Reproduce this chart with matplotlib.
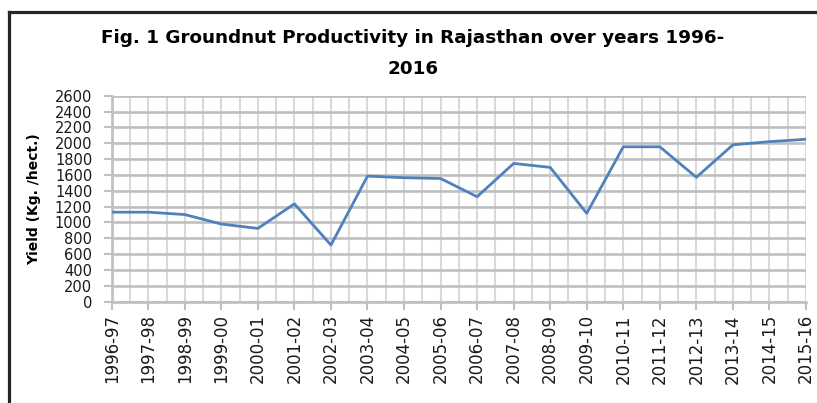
import matplotlib
matplotlib.use("Agg")
import matplotlib.pyplot as plt
from matplotlib.lines import Line2D
import numpy as np

years = ["1996-97", "1997-98", "1998-99", "1999-00", "2000-01", "2001-02",
         "2002-03", "2003-04", "2004-05", "2005-06", "2006-07", "2007-08",
         "2008-09", "2009-10", "2010-11", "2011-12", "2012-13", "2013-14",
         "2014-15", "2015-16"]
yield_kg_ha = [1130, 1130, 1100, 980, 925, 1235, 715, 1585, 1565, 1555,
               1325, 1745, 1695, 1115, 1955, 1955, 1570, 1980, 2020, 2050]
y_ticks = list(range(0, 2601, 200))

W, H = 817, 403
fig = plt.figure(figsize=(W / 100, H / 100), dpi=100)
fig.patch.set_facecolor("white")

# plot area in pixel coordinates
left, right, top, bottom = 111.7, 806.0, 95.7, 301.7
ax = fig.add_axes([left / W, 1 - bottom / H, (right - left) / W, (bottom - top) / H])

x = np.arange(len(years))
ax.set_xlim(0, len(years) - 1)
ax.set_ylim(0, 2600)

# gridlines
for yt in y_ticks:
    ax.axhline(yt, color="#bfbfbf", lw=1.9, zorder=1)
for xv in np.arange(0, len(years) - 0.5, 0.5):
    ax.axvline(xv, color="#d9d9d9", lw=1.5, zorder=0.5)

ax.plot(x, yield_kg_ha, color="#4f81bd", lw=2.0, zorder=3, solid_joinstyle="round")

ax.set_xticks(x)
ax.set_xticklabels(years, rotation=90, fontsize=12, family="DejaVu Sans")
ax.set_yticks(y_ticks)
ax.set_yticklabels([str(v) for v in y_ticks], fontsize=10.5, family="DejaVu Sans")
ax.tick_params(axis="both", color="#bfbfbf", width=1.5, length=6, pad=3,
               labelcolor="#1a1a1a")
ax.tick_params(axis="y", pad=8)

for side in ("top", "right"):
    ax.spines[side].set_visible(False)
for side in ("left", "bottom"):
    ax.spines[side].set_color("#bfbfbf")
    ax.spines[side].set_linewidth(1.9)

ax.set_ylabel("Yield (Kg. /hect.)", fontsize=10, fontweight="bold", labelpad=2)
ax.yaxis.set_label_coords(-(left - 41) / (right - left), 0.5)

fig.text(413 / W, 1 - 38 / H, "Fig. 1 Groundnut Productivity in Rajasthan over years 1996-",
         ha="center", va="center", fontsize=13.2, fontweight="bold")
fig.text(413 / W, 1 - 69 / H, "2016", ha="center", va="center",
         fontsize=13.2, fontweight="bold")

# outer frame lines
fig.add_artist(Line2D([8.5 / W, 1], [1 - 11.5 / H, 1 - 11.5 / H],
                      transform=fig.transFigure, color="#262626", lw=2.3))
fig.add_artist(Line2D([8.5 / W, 8.5 / W], [0, 1 - 11.5 / H],
                      transform=fig.transFigure, color="#262626", lw=2.3))

fig.savefig("out.png", dpi=100)
